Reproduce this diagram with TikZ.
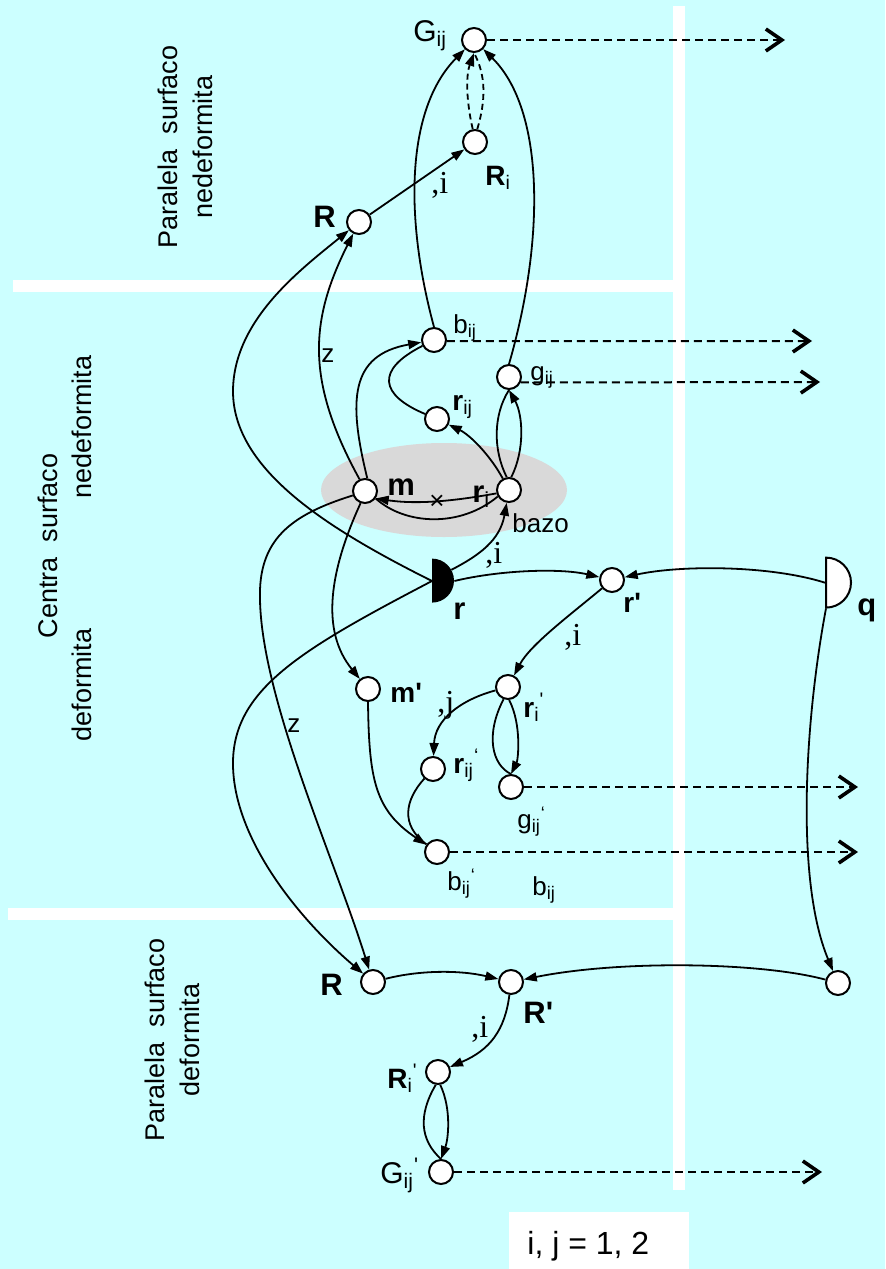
\documentclass[tikz,border=0pt]{standalone}
\usepackage{fontspec}
\setmainfont{Liberation Sans}
\newfontfamily\serifo{Liberation Serif}
\usetikzlibrary{positioning,arrows.meta}

\definecolor{fono}{RGB}{204,255,255}
\definecolor{griza}{RGB}{217,217,217}

% indicoj sub kaj super la litero
\newcommand{\subidx}[1]{\textsubscript{\normalfont #1}}
\newcommand{\subprim}[2]{\textsubscript{\normalfont #1}\textsuperscript{\normalfont #2}}

\begin{document}
\begin{tikzpicture}[x=0.5pt, y=-0.5pt,
    nodo/.style={circle, draw, fill=white, line width=1pt, minimum size=12pt, inner sep=0pt},
    etk/.style={inner sep=0pt, anchor=base west, font=\fontsize{13}{15}\selectfont},
    etkG/.style={etk, font=\fontsize{15}{17}\selectfont},
    etkb/.style={etk, font=\fontsize{14}{16}\selectfont\bfseries},
    etkg/.style={etk, font=\fontsize{15.5}{17}\selectfont\bfseries},
    indico/.style={inner sep=0pt, anchor=base west, font=\fontsize{16}{18}\selectfont\serifo},
    flanko/.style={rotate=90, align=center, inner sep=0pt, font=\fontsize{13.5}{17.5}\selectfont},
    sago/.style={-{Triangle[length=6.5pt,width=4.5pt]}, line width=0.9pt},
    linio/.style={line width=0.9pt},
    eliro/.style={dash pattern=on 4pt off 2.5pt, line width=1pt,
                  -{Straight Barb[length=8pt,width=11pt,line width=1.8pt]}}
]

% fono kaj blankaj strioj
\fill[fono] (0,0) rectangle (885,1269);
\useasboundingbox (0,0) rectangle (885,1269);
\fill[white] (13,280) rectangle (673,292);
\fill[white] (8,908) rectangle (673,920);
\fill[white] (673,6) rectangle (685,1190);
\fill[white] (509,1212) rectangle (689,1269);

% bazo
\fill[griza] (444,490) ellipse [x radius=61.5pt, y radius=23.5pt];

% flankaj titoloj
\node[flanko] (supra)    at (185,147)  {Paralela\ \ surfaco\\nedeformita};
\node[flanko] (centra)   at (48,546)   {Centra\ \ surfaco};
\node[flanko] (centraNe) at (82,427)   {nedeformita};
\node[flanko] (centraDe) at (82,685)   {deformita};
\node[flanko] (malsupra) at (172,1040) {Paralela\ \ surfaco\\deformita};

% nodoj
\node[nodo] (Gij)  at (474,40)  {};
\node[nodo] (Ri)   at (475,142) {};
\node[nodo] (Rt)   at (359,222) {};
\node[nodo] (bij)  at (434,340) {};
\node[nodo] (gij)  at (509,377) {};
\node[nodo] (rij)  at (437,419) {};
\node[nodo] (m)    at (365,491) {};
\node[nodo] (ri)   at (509,490) {};
\node[circle, minimum size=22pt, inner sep=0pt] (r) at (432,581) {};
\node[nodo] (rp)   at (612,580) {};
\node[circle, minimum size=25pt, inner sep=0pt] (q) at (826,583) {};
\node[nodo] (mp)   at (368,689) {};
\node[nodo] (rip)  at (508,687) {};
\node[nodo] (rijp) at (433,769) {};
\node[nodo] (gijp) at (511,787) {};
\node[nodo] (bijp) at (437,852) {};
\node[nodo] (Rb)   at (373,982) {};
\node[nodo] (Rp)   at (511,982) {};
\node[nodo] (qp)   at (838,983) {};
\node[nodo] (Rip)  at (438,1072) {};
\node[nodo] (Gijp) at (441,1172) {};

% finoj de la eliroj
\coordinate (GijFin)  at (785,40);
\coordinate (bijFin)  at (812,341);
\coordinate (gijFin)  at (820,382);
\coordinate (gijpFin) at (858,787);
\coordinate (bijpFin) at (858,852);
\coordinate (GijpFin) at (822,1172);

% supra surfaco
\draw[sago] (Rt) -- (Ri);
\draw[sago, dash pattern=on 3pt off 2pt] (Ri.100) .. controls (466,100) and (466,75) .. (Gij.south);
\draw[linio, dash pattern=on 3pt off 2pt] (Ri.80) .. controls (486,100) and (486,75) .. (Gij.south);
\draw[sago] (bij.north) .. controls (405,220) and (405,110) .. (Gij);
\draw[sago] (gij.north) .. controls (545,240) and (545,110) .. (Gij);

% al R supre kaj malsupre
\draw[sago] (m.115) .. controls (305,380) and (310,320) .. (Rt);
\draw[sago] (r.center) .. controls (330,530) and (232,470) .. (233,390)
                       .. controls (234,320) and (300,270) .. (Rt);
\draw[sago] (r.center) .. controls (300,650) and (232,690) .. (233,765)
                       .. controls (234,840) and (300,920) .. (Rb);
\draw[sago] (m.200) .. controls (290,515) and (258,540) .. (260,600)
                    .. controls (262,700) and (335,860) .. (Rb);

% centra surfaco nedeformita
\draw[sago] (m.250) .. controls (330,570) and (320,630) .. (mp);
\draw[sago] (m.80) .. controls (348,400) and (350,355) .. (bij);
\draw[linio] (rij) .. controls (380,395) and (375,370) .. (bij);
\draw[sago] (ri) .. controls (490,455) and (470,435) .. (rij);
\draw[sago] (ri.-165) .. controls (460,500) and (420,505) .. (m.-35);
\draw[linio] (ri.-150) .. controls (460,528) and (405,525) .. (m.-35);
\draw[linio] (ri.100) .. controls (493,450) and (493,415) .. (gij.south);
\draw[sago] (ri.80) .. controls (525,450) and (523,415) .. (gij.south);
\draw[sago] (r.30) .. controls (480,555) and (500,540) .. (ri);
\draw[sago] (r.east) .. controls (500,570) and (560,568) .. (rp);
\draw[sago] (q.center) .. controls (770,565) and (680,565) .. (rp);
\draw[sago] (q.south) .. controls (805,720) and (795,880) .. (qp);

% centra surfaco deformita
\draw[sago] (rp) .. controls (570,615) and (530,645) .. (rip);
\draw[sago] (rip) .. controls (460,700) and (435,720) .. (rijp);
\draw[linio] (rip.-110) .. controls (485,735) and (492,765) .. (gijp.north);
\draw[sago] (rip.-85) .. controls (522,725) and (518,760) .. (gijp.north);
\draw[sago] (mp.south) .. controls (369,780) and (375,810) .. (bijp);
\draw[linio] (rijp) .. controls (405,800) and (400,825) .. (bijp);

% malsupra surfaco
\draw[sago] (qp) .. controls (760,962) and (620,960) .. (Rp);
\draw[sago] (Rb) .. controls (420,970) and (460,970) .. (Rp);
\draw[sago] (Rp) .. controls (505,1030) and (490,1050) .. (Rip);
\draw[linio] (Rip.-100) .. controls (418,1115) and (420,1140) .. (Gijp.north);
\draw[sago] (Rip.-80) .. controls (452,1110) and (448,1140) .. (Gijp.north);

% eliroj dekstren
\draw[eliro] (Gij.east) -- (GijFin);
\draw[eliro] (bij.-5) -- (bijFin);
\draw[eliro] (gij.-25) -- (gijFin);
\draw[eliro] (gijp.east) -- (gijpFin);
\draw[eliro] (bijp.east) -- (bijpFin);
\draw[eliro] (Gijp.east) -- (GijpFin);

% duonaj diskoj r kaj q
\fill (r.north) arc[start angle=90, end angle=-90, radius=11pt] -- cycle;
\filldraw[fill=white, line width=1pt] (q.north) arc[start angle=90, end angle=-90, radius=12.5pt] -- cycle;

% etikedoj
\node[etkG]   (lGij)  at (413,41)   {G\subidx{ij}};
\node[etkb]   (lRi)   at (485,185)  {R\subidx{i}};
\node[etkg]   (lRt)   at (313,227)  {R};
\node[indico] (i1)    at (431,193)  {,i};
\node[etk]    (lbij)  at (453,333)  {b\subidx{ij}};
\node[etk]    (lgij)  at (530,380)  {g\subidx{ij}};
\node[etkb]   (lrij)  at (452,410)  {r\subidx{ij}};
\node[etkg]   (lm)    at (387,495)  {m};
\node[etkg]   (lri)   at (472,502)  {r\subidx{i}};
\node[etk, anchor=center] (kruco) at (437,502) {×};
\node[etk]    (lbazo) at (512,532)  {bazo};
\node[etk]    (z1)    at (321,362)  {z};
\node[indico] (i2)    at (485,563)  {,i};
\node[etkg]   (lr)    at (453,619)  {r};
\node[indico] (i3)    at (564,645)  {,i};
\node[etkb]   (lrp)   at (623,612)  {r\textquotesingle};
\node[etkg]   (lq)    at (857,615)  {q};
\node[etkb]   (lmp)   at (390,702)  {m\textquotesingle};
\node[etkb]   (lrip)  at (523,717)  {r\subprim{i}{\textquotesingle}};
\node[indico] (j1)    at (437,712)  {,j};
\node[etkb]   (lrijp) at (453,773)  {r\subprim{ij}{`}};
\node[etk]    (lgijp) at (517,828)  {g\subprim{ij}{`}};
\node[etk]    (lbijp) at (447,890)  {b\subprim{ij}{`}};
\node[etk]    (lbij2) at (532,895)  {b\subidx{ij}};
\node[etk]    (z2)    at (287,732)  {z};
\node[etkg]   (lRb)   at (320,995)  {R};
\node[etkg]   (lRp)   at (523,1023) {R\textquotesingle};
\node[indico] (i4)    at (471,1037) {,i};
\node[etkb]   (lRip)  at (387,1088) {R\subprim{i}{\textquotesingle}};
\node[etkG]   (lGijp) at (380,1183) {G\subprim{ij}{\textquotesingle}};
\node[inner sep=0pt, anchor=base west, font=\fontsize{16}{18}\selectfont] (indeksoj) at (527,1254) {i, j = 1, 2};

\end{tikzpicture}
\end{document}
